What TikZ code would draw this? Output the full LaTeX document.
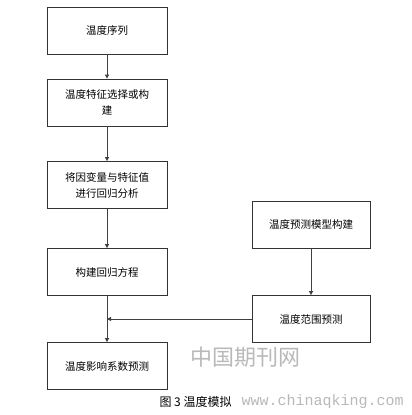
\documentclass[tikz,border=0pt]{standalone}
\usepackage{fontspec}
\setmainfont{Noto Sans CJK SC}
\newfontfamily\wmfont{Liberation Mono}
\usetikzlibrary{arrows.meta,positioning}
\tikzset{
  stepbox/.style={draw=black!80, line width=0.8pt, fill=white, minimum width=120pt,
    minimum height=47pt, align=center, font=\fontsize{10.5}{16}\selectfont, inner sep=2pt},
  flowln/.style={-{Triangle[length=4pt,width=4pt]}, line width=0.8pt, black!75},
  wmark/.style={gray!55},
}

\begin{document}
\begin{tikzpicture}[x=1pt,y=-1pt]
    \useasboundingbox[fill=white] (0,0) rectangle (412,415);
    % left column
    \node[stepbox] (seq) at (107,30.5) {温度序列};
    \node[stepbox] (feat) at (107,102.5) {温度特征选择或构\\建};
    \node[stepbox] (regr) at (107,185) {将因变量与特征值\\进行回归分析};
    \node[stepbox] (eqn) at (107,272) {构建回归方程};
    \node[stepbox] (coef) at (107,366) {温度影响系数预测};
    % right column
    \node[stepbox, minimum width=118pt] (model) at (311,224.5) {温度预测模型构建};
    \node[stepbox, minimum width=118pt] (range) at (311,319) {温度范围预测};
    % arrows
    \draw[flowln] (seq) -- (feat);
    \draw[flowln] (feat) -- (regr);
    \draw[flowln] (regr) -- (eqn);
    \draw[flowln] (eqn) -- (coef);
    \draw[flowln] (model) -- (range);
    \coordinate (join) at (eqn.south |- range.west);
    \draw[flowln] (range.west) -- (join);
    % watermark and caption
    \node[wmark, font=\fontsize{22}{22}\selectfont] (wmcn) at (245,357) {中国期刊网};
    \node[font=\fontsize{12}{12}\selectfont, anchor=west] (cap) at (156,402) {图 3 温度模拟};
    \node[wmark, font=\wmfont\fontsize{15}{15}\selectfont, anchor=west] (wmurl) at (238,402) {www.chinaqking.com};
\end{tikzpicture}
\end{document}
